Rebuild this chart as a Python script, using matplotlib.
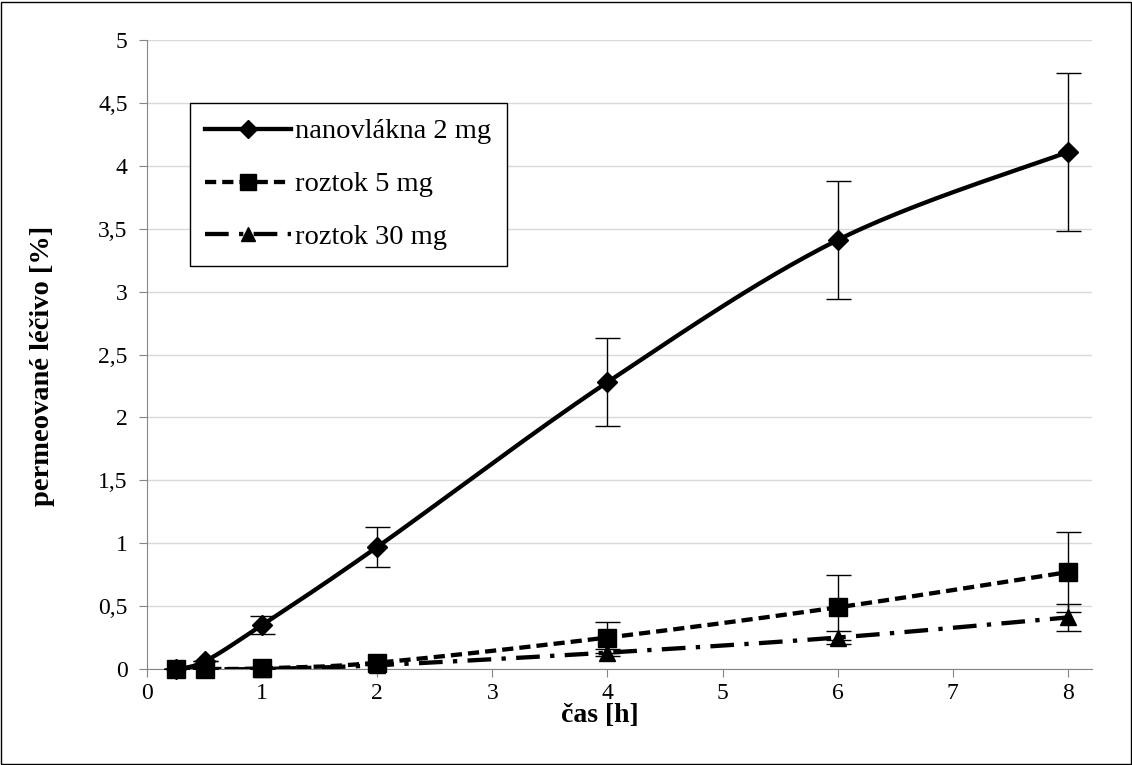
import numpy as np
import matplotlib.pyplot as plt
from matplotlib.patches import Rectangle

plt.rcParams['font.family'] = ['Liberation Serif', 'DejaVu Serif']

# time points [h]
cas = [0.25, 0.5, 1, 2, 4, 6, 8]

nano_2mg = [0.0, 0.06, 0.35, 0.97, 2.28, 3.41, 4.11]
nano_2mg_err = [0.0, 0.0, 0.07, 0.16, 0.35, 0.47, 0.63]

roztok_5mg = [0.0, 0.0, 0.005, 0.05, 0.25, 0.49, 0.77]
roztok_5mg_err = [0.0, 0.0, 0.0, 0.0, 0.12, 0.26, 0.32]

roztok_30mg = [0.0, 0.0, 0.0, 0.03, 0.13, 0.25, 0.41]
roztok_30mg_err = [0.0, 0.0, 0.0, 0.0, 0.03, 0.05, 0.11]

y_ticks = [0, 0.5, 1, 1.5, 2, 2.5, 3, 3.5, 4, 4.5, 5]
y_tick_labels = ['0', '0,5', '1', '1,5', '2', '2,5', '3', '3,5', '4', '4,5', '5']
x_ticks = [0, 1, 2, 3, 4, 5, 6, 7, 8]


def smooth(x, y, n=30):
    # excel-like smoothed line: cubic bezier through the points
    x = np.asarray(x, float)
    y = np.asarray(y, float)
    px, py = [], []
    for i in range(len(x) - 1):
        i0 = max(i - 1, 0)
        i3 = min(i + 2, len(x) - 1)
        c1x = x[i] + (x[i + 1] - x[i0]) / 6
        c1y = y[i] + (y[i + 1] - y[i0]) / 6
        c2x = x[i + 1] - (x[i3] - x[i]) / 6
        c2y = y[i + 1] - (y[i3] - y[i]) / 6
        t = np.linspace(0, 1, n)
        px.extend((1 - t) ** 3 * x[i] + 3 * (1 - t) ** 2 * t * c1x + 3 * (1 - t) * t ** 2 * c2x + t ** 3 * x[i + 1])
        py.extend((1 - t) ** 3 * y[i] + 3 * (1 - t) ** 2 * t * c1y + 3 * (1 - t) * t ** 2 * c2y + t ** 3 * y[i + 1])
    return px, py


fig = plt.figure(figsize=(11.32, 7.65), dpi=100)
ax = fig.add_axes([0.1299, 0.1255, 0.8348, 0.8222])

series = [
    (nano_2mg, nano_2mg_err, 'nanovlákna 2 mg', 'D', 10.5, (None, None), 3),
    (roztok_30mg, roztok_30mg_err, 'roztok 30 mg', '^', 11.5, (5.5, 2.4, 1, 2.4), 4),
    (roztok_5mg, roztok_5mg_err, 'roztok 5 mg', 's', 13, (2.6, 1.4), 5),
]
handles = {}
for vals, err, label, marker, ms, dashes, z in series:
    sx, sy = smooth(cas, vals)
    line, = ax.plot(sx, sy, color='black', lw=3.1, zorder=z)
    if dashes[0] is not None:
        line.set_dashes(dashes)
    ax.errorbar(cas, vals, yerr=err, fmt='none', ecolor='black', elinewidth=1,
                capsize=9, capthick=1, zorder=z)
    ax.plot(cas, vals, linestyle='none', marker=marker, ms=ms, color='black',
            zorder=z + 0.5, clip_on=False)
    h, = ax.plot([], [], color='black', lw=3.1, marker=marker, ms=ms * 0.85)
    if dashes[0] is not None:
        h.set_dashes(dashes)
    handles[label] = h

ax.set_xlim(0, 8.21)
ax.set_ylim(0, 5)
ax.set_xticks(x_ticks)
ax.set_yticks(y_ticks)
ax.set_yticklabels(y_tick_labels)
ax.tick_params(labelsize=17, color='#868686', length=6, direction='out', pad=4)
ax.tick_params(axis='y', pad=8)
ax.grid(axis='y', color='#d9d9d9', lw=1)
ax.set_axisbelow(True)
for s in ['top', 'right']:
    ax.spines[s].set_visible(False)
for s in ['left', 'bottom']:
    ax.spines[s].set_color('#868686')

fig.text(600 / 1132, 1 - 716 / 765, 'čas [h]', fontsize=20, fontweight='bold',
         ha='center', va='center')
fig.text(43 / 1132, 1 - 366 / 765, 'permeované léčivo [%]', fontsize=20.5,
         fontweight='bold', ha='center', va='center', rotation=90)

order = ['nanovlákna 2 mg', 'roztok 5 mg', 'roztok 30 mg']
leg = ax.legend([handles[k] for k in order], order, loc='upper left',
                bbox_to_anchor=(0.045, 0.90), borderaxespad=0, fontsize=20.5,
                labelspacing=0.95, handlelength=3.0, handletextpad=0.15,
                fancybox=False, edgecolor='black', framealpha=1,
                borderpad=0.55)
leg.get_frame().set_linewidth(1)

fig.add_artist(Rectangle((0.001, 0.001), 0.998, 0.997, transform=fig.transFigure,
                         fill=False, edgecolor='black', lw=1))

fig.savefig('out.png', dpi=100)
